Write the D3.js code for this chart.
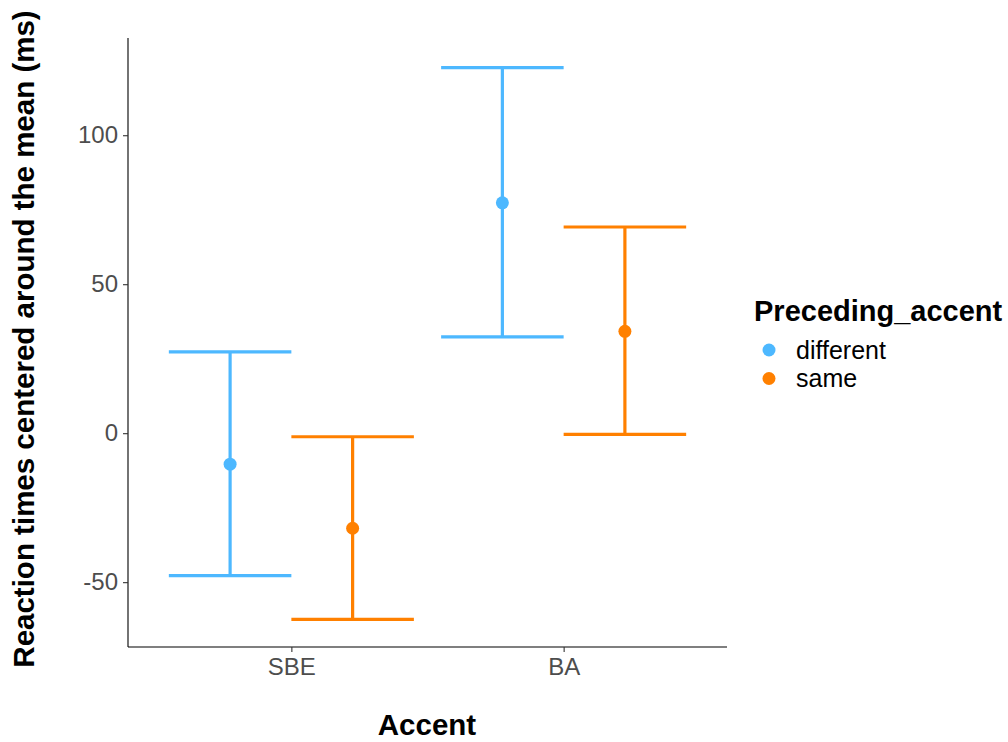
<!DOCTYPE html>
<html><head><meta charset="utf-8">
<script src="https://cdn.jsdelivr.net/npm/d3@7"></script>
<style>body{margin:0;background:#fff}svg{display:block}text{font-family:"Liberation Sans",Arial,sans-serif}</style>
</head><body><svg id="c" width="1008" height="742"></svg>
<script>
const categories = ["SBE", "BA"];
const groups = ["different", "same"];
const colors = ["#4db8ff", "#ff8000"];
const meanDifferent = [-10.4, 77.3];
const upperDifferent = [27.3, 122.7];
const lowerDifferent = [-47.8, 32.3];
const meanSame = [-31.9, 34.2];
const upperSame = [-1.2, 69.2];
const lowerSame = [-62.5, -0.4];
const yTicks = [-50, 0, 50, 100];

const rows = [];
categories.forEach((c, i) => {
  rows.push({cat: c, ci: i + 1, g: 0, mean: meanDifferent[i], up: upperDifferent[i], lo: lowerDifferent[i]});
  rows.push({cat: c, ci: i + 1, g: 1, mean: meanSame[i], up: upperSame[i], lo: lowerSame[i]});
});

const svg = d3.select("#c");
const L = 128, R = 727, T = 40, B = 647;
const dodge = 0.225, capHalf = 0.225;
const x = d3.scaleLinear().domain([0.4, 2.6]).range([L, R]);
const allV = rows.flatMap(r => [r.up, r.lo]);
const ymin = d3.min(allV), ymax = d3.max(allV), pad = (ymax - ymin) * 0.05;
const y = d3.scaleLinear().domain([ymin - pad, ymax + pad]).range([B, T]);

// axes
const yAx = svg.append("g").attr("transform", `translate(${L},0)`)
  .call(d3.axisLeft(y).tickValues(yTicks).tickFormat(d => String(d)).tickSize(5).tickPadding(5));
const xAx = svg.append("g").attr("transform", `translate(0,${B})`)
  .call(d3.axisBottom(x).tickValues(categories.map((c, i) => i + 1)).tickFormat((d, i) => categories[i]).tickSize(5).tickPadding(6));
[yAx, xAx].forEach(a => {
  a.attr("font-size", null);
  a.select(".domain").attr("stroke", "#000").attr("stroke-width", 1.1);
  a.selectAll(".tick line").attr("stroke", "#333").attr("stroke-width", 1.1);
  a.selectAll(".tick text").attr("fill", "#4d4d4d").style("font-size", "24px").style("font-family", '"Liberation Sans",Arial,sans-serif');
});
yAx.select(".domain").attr("d", `M0,${B}V${T - 2}`);
xAx.select(".domain").attr("d", `M${L},0H${R}`);

// error bars
const gx = r => r.ci + (r.g === 0 ? -dodge : dodge);
const eb = svg.append("g");
rows.forEach(r => {
  const cx = x(gx(r)), col = colors[r.g];
  const x0 = x(gx(r) - capHalf), x1 = x(gx(r) + capHalf);
  eb.append("line").attr("x1", cx).attr("x2", cx).attr("y1", y(r.up)).attr("y2", y(r.lo)).attr("stroke", col).attr("stroke-width", 3.2);
  eb.append("line").attr("x1", x0).attr("x2", x1).attr("y1", y(r.up)).attr("y2", y(r.up)).attr("stroke", col).attr("stroke-width", 3.2);
  eb.append("line").attr("x1", x0).attr("x2", x1).attr("y1", y(r.lo)).attr("y2", y(r.lo)).attr("stroke", col).attr("stroke-width", 3.2);
  eb.append("circle").attr("cx", cx).attr("cy", y(r.mean)).attr("r", 6.5).attr("fill", col);
});

// titles
svg.append("text").attr("x", 427).attr("y", 735).attr("text-anchor", "middle")
  .style("font-size", "29.5px").style("font-weight", "bold").attr("fill", "#000").text("Accent");
svg.append("text").attr("transform", `translate(33.5,339) rotate(-90)`).attr("text-anchor", "middle")
  .style("font-size", "29.5px").style("font-weight", "bold").attr("fill", "#000").text("Reaction times centered around the mean (ms)");

// legend
const lg = svg.append("g");
lg.append("text").attr("x", 754).attr("y", 321).style("font-size", "29px").style("font-weight", "bold").attr("fill", "#000").text("Preceding_accent");
groups.forEach((g, i) => {
  const cy = 350 + i * 28.5;
  lg.append("circle").attr("cx", 769).attr("cy", cy).attr("r", 6.5).attr("fill", colors[i]);
  lg.append("text").attr("x", 796).attr("y", cy + 8.5).style("font-size", "25px").attr("fill", "#000").text(g);
});
</script></body></html>
